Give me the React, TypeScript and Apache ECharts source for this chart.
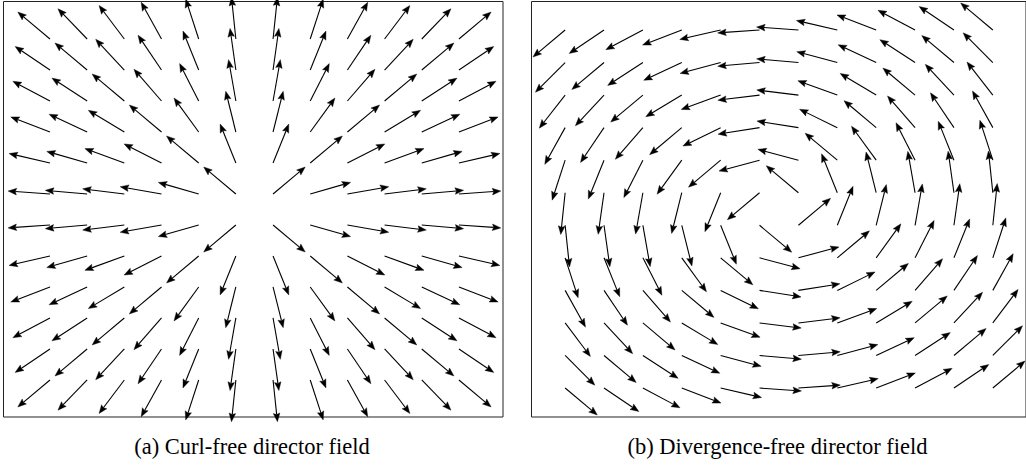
import React, { useEffect, useRef } from "react";
import * as echarts from "echarts";

// Node positions of the sampling lattice (identical for both panels)
const nodeX = [-1.1, -0.9, -0.7, -0.5, -0.3, -0.1, 0.1, 0.3, 0.5, 0.7, 0.9, 1.1];
const nodeY = [1.1, 0.9, 0.7, 0.5, 0.3, 0.1, -0.1, -0.3, -0.5, -0.7, -0.9, -1.1];

// Director orientation at each node, degrees counter-clockwise from +x,
// one row per nodeY entry (top to bottom), one column per nodeX entry.
const curlFreeAngles: number[][] = [
  [140, 134, 127, 119, 108, 96, 84, 72, 61, 53, 46, 40],
  [146, 140, 133, 124, 112, 98, 82, 68, 56, 47, 40, 34],
  [152, 147, 140, 131, 117, 100, 80, 63, 49, 40, 33, 28],
  [159, 155, 149, 140, 126, 104, 76, 54, 40, 31, 25, 21],
  [167, 164, 160, 153, 140, 112, 68, 40, 27, 20, 16, 13],
  [176, 175, 173, 170, 164, 140, 40, 16, 10, 7, 5, 4],
  [-176, -175, -173, -170, -164, -140, -40, -16, -10, -7, -5, -4],
  [-167, -164, -160, -153, -140, -112, -68, -40, -27, -20, -16, -13],
  [-159, -155, -149, -140, -126, -104, -76, -54, -40, -31, -25, -21],
  [-152, -147, -140, -131, -117, -100, -80, -63, -49, -40, -33, -28],
  [-146, -140, -133, -124, -112, -98, -82, -68, -56, -47, -40, -34],
  [-140, -134, -127, -119, -108, -96, -84, -72, -61, -53, -46, -40],
];

const divFreeAngles: number[][] = [
  [-140, -146, -152, -159, -167, -176, 176, 167, 159, 152, 146, 140],
  [-135, -140, -147, -155, -165, -175, 175, 165, 155, 147, 140, 135],
  [-128, -133, -140, -149, -160, -173, 173, 160, 149, 140, 133, 128],
  [-119, -124, -131, -140, -154, -171, 171, 154, 140, 131, 124, 119],
  [-108, -112, -117, -126, -140, -165, 165, 140, 126, 117, 112, 108],
  [-96, -98, -100, -104, -112, -140, 140, 112, 104, 100, 98, 96],
  [-84, -82, -80, -76, -68, -40, 40, 68, 76, 80, 82, 84],
  [-72, -68, -63, -54, -40, -15, 15, 40, 54, 63, 68, 72],
  [-61, -56, -49, -40, -26, -9, 9, 26, 40, 49, 56, 61],
  [-53, -47, -40, -31, -20, -7, 7, 20, 31, 40, 47, 53],
  [-45, -40, -33, -25, -15, -5, 5, 15, 25, 33, 40, 45],
  [-40, -34, -28, -21, -13, -4, 4, 13, 21, 28, 34, 40],
];

const captions = ["(a) Curl-free director field", "(b) Divergence-free director field"];

const toPoints = (angles: number[][]) => {
  const out: number[][] = [];
  angles.forEach((row, r) => {
    row.forEach((deg, c) => {
      out.push([nodeX[c], nodeY[r], deg]);
    });
  });
  return out;
};

// Quiver-style arrow anchored at its tail
const ARROW_LEN = 42;
const HEAD_LEN = 8.5;
const HEAD_HALF = 3.3;
const HEAD_NOTCH = 7.2;

const renderArrow = (_params: any, api: any) => {
  const p = api.coord([api.value(0), api.value(1)]);
  const a = (api.value(2) * Math.PI) / 180;
  const ux = Math.cos(a);
  const uy = -Math.sin(a);
  const nx = -uy;
  const ny = ux;
  const tip = [p[0] + ux * ARROW_LEN, p[1] + uy * ARROW_LEN];
  const bx = p[0] + ux * (ARROW_LEN - HEAD_LEN);
  const by = p[1] + uy * (ARROW_LEN - HEAD_LEN);
  const notch = [p[0] + ux * (ARROW_LEN - HEAD_NOTCH), p[1] + uy * (ARROW_LEN - HEAD_NOTCH)];
  return {
    type: "group",
    children: [
      {
        type: "line",
        shape: { x1: p[0], y1: p[1], x2: notch[0], y2: notch[1] },
        style: { stroke: "#000", lineWidth: 1.1 },
      },
      {
        type: "polygon",
        shape: {
          points: [tip, [bx + nx * HEAD_HALF, by + ny * HEAD_HALF], notch, [bx - nx * HEAD_HALF, by - ny * HEAD_HALF]],
        },
        style: { fill: "#000", stroke: "#000", lineWidth: 0.4 },
      },
    ],
  };
};

export default function App() {
  const ref = useRef<HTMLDivElement>(null);

  useEffect(() => {
    if (!ref.current) return;
    const chart = echarts.init(ref.current, undefined, { renderer: "svg" });
    const frame = { show: true, borderColor: "#222", borderWidth: 1, backgroundColor: "transparent" };
    const captionFont = "22.5px 'Liberation Serif', 'DejaVu Serif', serif";
    chart.setOption({
      animation: false,
      grid: [
        { left: 3.5, top: 1.5, width: 499.5, height: 415.5, ...frame },
        { left: 531.5, top: 1.5, width: 500, height: 415.5, ...frame },
      ],
      xAxis: [
        { type: "value", gridIndex: 0, min: -1.35, max: 1.337, show: false },
        { type: "value", gridIndex: 1, min: -1.273, max: 1.2706, show: false },
      ],
      yAxis: [
        { type: "value", gridIndex: 0, min: -1.339, max: 1.342, show: false },
        { type: "value", gridIndex: 1, min: -1.278, max: 1.275, show: false },
      ],
      graphic: [
        {
          type: "text",
          x: 252,
          y: 446,
          style: { text: captions[0], font: captionFont, fill: "#000", align: "center", verticalAlign: "middle" },
        },
        {
          type: "text",
          x: 777.5,
          y: 446,
          style: { text: captions[1], font: captionFont, fill: "#000", align: "center", verticalAlign: "middle" },
        },
      ],
      series: [
        {
          type: "custom",
          xAxisIndex: 0,
          yAxisIndex: 0,
          data: toPoints(curlFreeAngles),
          renderItem: renderArrow,
          clip: false,
        },
        {
          type: "custom",
          xAxisIndex: 1,
          yAxisIndex: 1,
          data: toPoints(divFreeAngles),
          renderItem: renderArrow,
          clip: false,
        },
      ],
    });
    return () => chart.dispose();
  }, []);

  return (
    <div
      ref={ref}
      style={{ position: "fixed", left: 0, top: 0, width: 1026, height: 468, background: "#fff" }}
    />
  );
}
